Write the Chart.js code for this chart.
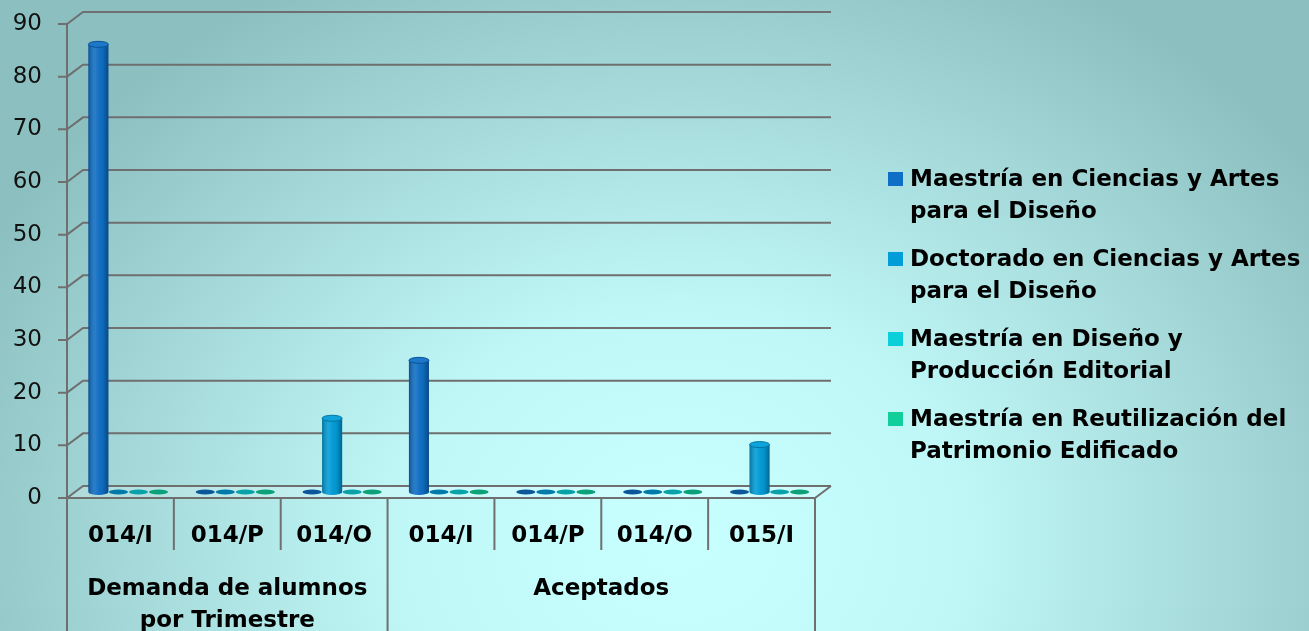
<!DOCTYPE html>
<html>
<head>
<meta charset="utf-8">
<script src="https://cdn.jsdelivr.net/npm/chart.js@4.4.1/dist/chart.umd.min.js"></script>
<style>
  html, body { margin: 0; padding: 0; width: 1309px; height: 631px; overflow: hidden; }
  body {
    background: radial-gradient(ellipse 780px 640px at 680px 540px, #c8ffff 0%, #c0f8f8 35%, #a6dada 70%, #8cbfc0 100%);
  }
  #wrap { position: relative; width: 1309px; height: 631px; }
  #chart { position: absolute; left: 0; top: 0; }
  #legend {
    position: absolute; left: 888px; top: 162px;
    font-family: "DejaVu Sans", sans-serif; font-weight: bold;
    font-size: 23px; line-height: 32px; color: #000;
  }
  .item { position: relative; padding-left: 22px; margin-bottom: 16px; white-space: pre-line; }
  .sw { position: absolute; left: 0; top: 10px; width: 15px; height: 14px; }
</style>
</head>
<body>
<div id="wrap">
  <canvas id="chart" width="1309" height="631"></canvas>
  <div id="legend"></div>
</div>
<script>
// ---------- data ----------
const categories = ['014/I', '014/P', '014/O', '014/I', '014/P', '014/O', '015/I'];
const groupLabels = [['Demanda de alumnos', 'por Trimestre'], ['Aceptados']];
const groupSizes = [3, 4];
const seriesNames = [
  'Maestría en Ciencias y Artes\npara el Diseño',
  'Doctorado en Ciencias y Artes\npara el Diseño',
  'Maestría en Diseño y\nProducción Editorial',
  'Maestría en Reutilización del\nPatrimonio Edificado'
];
const maestriaCiencias = [85, 0, 0, 25, 0, 0, 0];
const doctoradoCiencias = [0, 0, 14, 0, 0, 0, 9];
const maestriaEditorial = [0, 0, 0, 0, 0, 0, 0];
const maestriaPatrimonio = [0, 0, 0, 0, 0, 0, 0];
const yTicks = [0, 10, 20, 30, 40, 50, 60, 70, 80, 90];
const seriesColors = ['#0F6FC6', '#009DD9', '#0BD0D9', '#10CF9B'];

// ---------- style ----------
const DX = 16, DY = 12;           // 3D depth offset
const LINE = '#6f6f6f';
const FONT = '"DejaVu Sans", sans-serif';

function shade(hex, f) { // f<0 darken, f>0 lighten
  const n = parseInt(hex.slice(1), 16);
  let r = n >> 16, g = (n >> 8) & 255, b = n & 255;
  const t = f < 0 ? 0 : 255, p = Math.abs(f);
  r = Math.round(r + (t - r) * p); g = Math.round(g + (t - g) * p); b = Math.round(b + (t - b) * p);
  return `rgb(${r},${g},${b})`;
}

const frame3d = {
  id: 'frame3d',
  beforeDatasetsDraw(chart) {
    const { ctx, chartArea: a, scales: { x, y } } = chart;
    const hx = DX / 2, hy = DY / 2;
    const L = a.left - hx, R = a.right - hx;
    const y0 = y.getPixelForValue(0);
    const yTop = y.getPixelForValue(yTicks[yTicks.length - 1]);
    ctx.save();
    // floor
    ctx.fillStyle = 'rgba(255,255,255,0.18)';
    ctx.beginPath();
    ctx.moveTo(L, y0 + hy); ctx.lineTo(R, y0 + hy);
    ctx.lineTo(R + DX, y0 + hy - DY); ctx.lineTo(L + DX, y0 + hy - DY);
    ctx.closePath(); ctx.fill();

    ctx.strokeStyle = LINE; ctx.lineWidth = 2; ctx.lineJoin = 'miter';
    // gridlines (tick, side wall diagonal, back wall)
    yTicks.forEach(v => {
      const p = y.getPixelForValue(v);
      ctx.beginPath();
      ctx.moveTo(L - 9, p + hy); ctx.lineTo(L, p + hy);
      ctx.lineTo(L + DX, p - hy); ctx.lineTo(R + DX, p - hy);
      ctx.stroke();
    });
    // floor front edge + right diagonal
    ctx.beginPath();
    ctx.moveTo(L, y0 + hy); ctx.lineTo(R, y0 + hy); ctx.lineTo(R + DX, y0 - hy);
    ctx.stroke();
    // value axis line through category area
    ctx.beginPath();
    ctx.moveTo(L, yTop + hy); ctx.lineTo(L, chart.height);
    ctx.stroke();
    // category dividers
    const n = categories.length;
    const bound = i => (i === 0 ? a.left : i === n ? a.right :
      (x.getPixelForValue(i - 1) + x.getPixelForValue(i)) / 2) - hx;
    const groupEdges = new Set([0]);
    let acc = 0; groupSizes.forEach(s => { acc += s; groupEdges.add(acc); });
    for (let i = 1; i <= n; i++) {
      const px = bound(i);
      ctx.beginPath();
      ctx.moveTo(px, y0 + hy);
      ctx.lineTo(px, groupEdges.has(i) ? chart.height : y0 + hy + 52);
      ctx.stroke();
    }
    // group labels
    ctx.fillStyle = '#000';
    ctx.font = `bold 23px ${FONT}`;
    ctx.textAlign = 'center'; ctx.textBaseline = 'middle';
    let start = 0;
    groupLabels.forEach((lines, g) => {
      const cx = (bound(start) + bound(start + groupSizes[g])) / 2;
      lines.forEach((t, k) => ctx.fillText(t, cx, y0 + hy + 91 + k * 32));
      start += groupSizes[g];
    });
    ctx.restore();
  },
  afterDatasetsDraw(chart) {
    const { ctx } = chart;
    ctx.save();
    chart.data.datasets.forEach((ds, di) => {
      const meta = chart.getDatasetMeta(di);
      const col = seriesColors[di];
      meta.data.forEach((el, i) => {
        const { x: cx, y: top, base, width } = el.getProps(['x', 'y', 'base', 'width'], true);
        const rx = width / 2, ry = 3;
        if (ds.data[i] > 0) {
          ctx.fillStyle = col;
          ctx.beginPath(); ctx.ellipse(cx, base, rx, ry, 0, 0, Math.PI); ctx.fill();
          const g = ctx.createLinearGradient(cx - rx, 0, cx + rx, 0);
          g.addColorStop(0, 'rgba(0,0,0,0.28)');
          g.addColorStop(0.35, 'rgba(255,255,255,0.10)');
          g.addColorStop(0.7, 'rgba(0,0,0,0.04)');
          g.addColorStop(1, 'rgba(0,0,0,0.35)');
          ctx.fillStyle = g;
          ctx.fillRect(cx - rx, top, width, base - top);
          ctx.beginPath(); ctx.ellipse(cx, base, rx, ry, 0, 0, Math.PI); ctx.fill();
          // top cap
          ctx.fillStyle = shade(col, 0.06);
          ctx.strokeStyle = shade(col, -0.25); ctx.lineWidth = 1;
          ctx.beginPath(); ctx.ellipse(cx, top, rx, ry, 0, 0, Math.PI * 2); ctx.fill(); ctx.stroke();
        } else {
          ctx.fillStyle = shade(col, -0.22);
          ctx.beginPath(); ctx.ellipse(cx, base, rx - 0.5, 2.6, 0, 0, Math.PI * 2); ctx.fill();
        }
      });
    });
    ctx.restore();
  }
};

const seriesData = [maestriaCiencias, doctoradoCiencias, maestriaEditorial, maestriaPatrimonio];

const chart = new Chart(document.getElementById('chart'), {
  type: 'bar',
  data: {
    labels: categories,
    datasets: seriesData.map((d, i) => ({
      label: seriesNames[i],
      data: d,
      backgroundColor: seriesColors[i],
      borderWidth: 0,
      categoryPercentage: 0.75,
      barPercentage: 1.0
    }))
  },
  options: {
    responsive: false,
    animation: false,
    devicePixelRatio: 1,
    layout: { padding: { top: 18, right: 486, bottom: 0, left: 0 } },
    plugins: { legend: { display: false }, tooltip: { enabled: false } },
    scales: {
      x: {
        grid: { display: false, drawTicks: false },
        border: { display: false },
        ticks: {
          autoSkip: false, maxRotation: 0, minRotation: 0,
          padding: 30, labelOffset: -DX / 2,
          color: '#000', font: { family: FONT, size: 23, weight: 'bold' }
        },
        afterFit: s => { s.height = 139; s.paddingLeft = 0; s.paddingRight = 0; s.paddingTop = 0; s.paddingBottom = 0; }
      },
      y: {
        min: 0, max: 90,
        afterBuildTicks: s => { s.ticks = yTicks.map(v => ({ value: v })); },
        grid: { display: false, drawTicks: false },
        border: { display: false },
        ticks: {
          padding: 33, labelOffset: DY / 2,
          color: '#111', font: { family: FONT, size: 23, weight: 'normal' }
        },
        afterFit: s => { s.width = 75; s.paddingTop = 0; s.paddingBottom = 0; s.paddingLeft = 0; s.paddingRight = 0; }
      }
    }
  },
  plugins: [frame3d]
});

// HTML legend from the chart's datasets
const legend = document.getElementById('legend');
chart.data.datasets.forEach((ds, i) => {
  const item = document.createElement('div');
  item.className = 'item';
  const sw = document.createElement('span');
  sw.className = 'sw';
  sw.style.background = ds.backgroundColor;
  item.appendChild(sw);
  item.appendChild(document.createTextNode(ds.label));
  legend.appendChild(item);
});
</script>
</body>
</html>
